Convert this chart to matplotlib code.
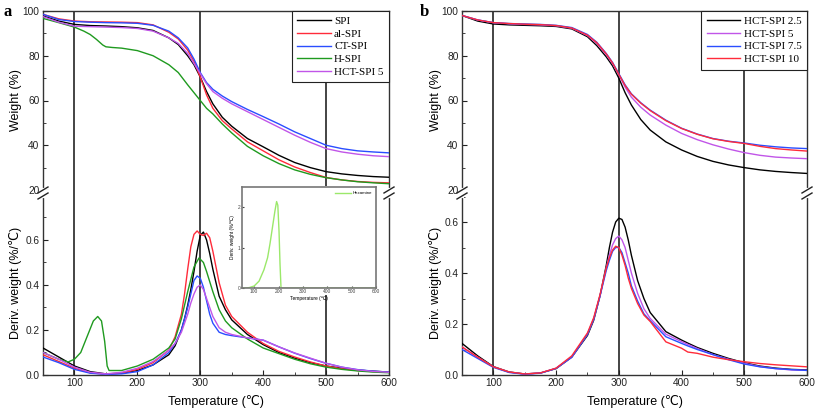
import matplotlib
matplotlib.use("Agg")
import matplotlib.pyplot as plt
from matplotlib.ticker import MultipleLocator, FixedLocator
from matplotlib.patches import Rectangle
from matplotlib.lines import Line2D

plt.rcParams['font.family'] = ['Liberation Sans', 'DejaVu Sans']

# ---------------- Panel a : TG ----------------
T_tg_a = [50, 75, 100, 125, 150, 175, 200, 225, 250, 265, 280, 290, 300, 310, 320, 335, 350, 375, 400, 425, 450, 475, 500, 525, 550, 575, 600]
w_spi = [97.8, 95.5, 94.0, 93.5, 93.3, 93.0, 92.5, 91.3, 88.0, 85.0, 80.0, 76.0, 70.5, 64.0, 58.5, 52.5, 48.5, 43.0, 39.3, 35.5, 32.3, 30.0, 28.2, 27.2, 26.5, 26.0, 25.7]
w_al = [98.5, 96.5, 95.5, 95.2, 95.1, 95.0, 94.8, 93.8, 90.5, 87.5, 82.5, 77.5, 70.5, 62.5, 56.5, 51.0, 47.3, 41.5, 37.5, 33.5, 30.3, 27.8, 25.6, 24.5, 23.8, 23.4, 23.2]
w_ct = [98.5, 96.2, 95.3, 95.0, 94.8, 94.7, 94.5, 93.6, 91.0, 88.0, 83.5, 78.5, 72.5, 68.0, 65.0, 62.0, 59.5, 56.0, 52.8, 49.5, 46.0, 43.0, 40.0, 38.5, 37.5, 37.0, 36.6]
w_hct5 = [97.5, 95.0, 93.2, 93.0, 92.8, 92.6, 92.2, 91.0, 88.0, 85.5, 81.0, 76.5, 72.0, 67.5, 64.0, 61.0, 58.5, 55.0, 51.5, 48.0, 44.5, 41.3, 38.5, 37.0, 36.0, 35.3, 34.9]
T_tg_h = [50, 75, 100, 115, 125, 135, 145, 150, 160, 175, 200, 225, 250, 265, 280, 290, 300, 310, 320, 335, 350, 375, 400, 425, 450, 475, 500, 525, 550, 575, 600]
w_h = [96.7, 94.8, 92.8, 91.0, 89.5, 87.3, 84.8, 84.0, 83.7, 83.4, 82.3, 80.0, 76.0, 72.5, 67.0, 63.5, 60.0, 56.5, 54.0, 49.5, 45.5, 39.5, 35.3, 31.8, 29.0, 27.0, 25.5, 24.5, 23.7, 23.2, 22.8]

# ---------------- Panel a : DTG ----------------
T_d_a = [50, 75, 100, 125, 150, 175, 200, 225, 250, 260, 270, 275, 280, 285, 290, 295, 300, 305, 310, 315, 320, 330, 340, 350, 375, 400, 425, 450, 475, 500, 525, 550, 575, 600]
d_spi = [0.12, 0.08, 0.04, 0.015, 0.005, 0.008, 0.02, 0.045, 0.09, 0.13, 0.20, 0.25, 0.31, 0.38, 0.46, 0.55, 0.62, 0.635, 0.60, 0.54, 0.47, 0.35, 0.29, 0.245, 0.18, 0.135, 0.10, 0.075, 0.055, 0.040, 0.030, 0.022, 0.017, 0.013]
d_al = [0.09, 0.06, 0.03, 0.01, 0.003, 0.008, 0.025, 0.055, 0.11, 0.17, 0.27, 0.36, 0.47, 0.57, 0.625, 0.64, 0.625, 0.62, 0.63, 0.61, 0.55, 0.41, 0.31, 0.26, 0.19, 0.14, 0.105, 0.08, 0.058, 0.040, 0.028, 0.020, 0.015, 0.012]
d_ct = [0.08, 0.055, 0.025, 0.008, 0.003, 0.005, 0.015, 0.045, 0.10, 0.14, 0.20, 0.25, 0.30, 0.36, 0.42, 0.44, 0.43, 0.39, 0.33, 0.27, 0.23, 0.19, 0.18, 0.175, 0.165, 0.155, 0.125, 0.097, 0.073, 0.052, 0.035, 0.024, 0.017, 0.013]
d_hct5 = [0.10, 0.07, 0.035, 0.012, 0.005, 0.012, 0.03, 0.06, 0.11, 0.14, 0.19, 0.23, 0.27, 0.32, 0.36, 0.39, 0.40, 0.38, 0.34, 0.30, 0.26, 0.21, 0.19, 0.18, 0.165, 0.155, 0.125, 0.098, 0.075, 0.052, 0.035, 0.023, 0.016, 0.012]
T_d_h = [50, 75, 90, 100, 110, 120, 130, 137, 143, 148, 152, 155, 175, 200, 225, 250, 260, 270, 280, 290, 298, 305, 310, 320, 330, 340, 350, 375, 400, 425, 450, 475, 500, 525, 550, 575, 600]
d_h = [0.10, 0.07, 0.058, 0.07, 0.10, 0.17, 0.24, 0.26, 0.24, 0.15, 0.04, 0.02, 0.02, 0.04, 0.07, 0.12, 0.16, 0.25, 0.37, 0.48, 0.52, 0.50, 0.46, 0.37, 0.29, 0.24, 0.21, 0.16, 0.12, 0.095, 0.07, 0.05, 0.035, 0.025, 0.018, 0.013, 0.010]

# Inset (Hexamine)
T_hex = [50, 60, 80, 100, 120, 140, 155, 165, 175, 185, 192, 197, 202, 206, 210, 215, 300, 400, 500, 600]
d_hex = [0.0, 0.0, 0.01, 0.05, 0.17, 0.45, 0.75, 1.10, 1.50, 1.90, 2.14, 2.05, 1.40, 0.60, 0.02, 0.0, 0.0, 0.0, 0.0, 0.0]

# ---------------- Panel b : TG ----------------
T_tg_b = [50, 75, 100, 125, 150, 175, 200, 225, 250, 265, 280, 290, 300, 310, 320, 335, 350, 375, 400, 425, 450, 475, 500, 525, 550, 575, 600]
wb_25 = [98.0, 95.5, 94.2, 93.8, 93.6, 93.4, 93.1, 92.0, 88.5, 84.5, 79.5, 75.5, 70.0, 63.5, 58.0, 51.5, 46.8, 41.5, 37.9, 35.0, 32.8, 31.2, 30.0, 29.0, 28.3, 27.8, 27.4]
wb_5 = [98.0, 96.0, 94.8, 94.3, 94.0, 93.8, 93.4, 92.3, 89.0, 85.5, 80.5, 76.5, 71.5, 66.0, 61.5, 57.0, 53.5, 49.0, 45.3, 42.5, 40.2, 38.3, 36.7, 35.5, 34.7, 34.3, 34.0]
wb_75 = [98.0, 96.0, 94.8, 94.4, 94.2, 94.0, 93.6, 92.6, 89.5, 86.0, 81.0, 77.0, 72.0, 67.0, 63.0, 59.0, 55.7, 51.2, 47.6, 45.0, 43.0, 41.8, 41.0, 40.0, 39.3, 38.8, 38.5]
wb_10 = [98.0, 96.0, 94.8, 94.4, 94.1, 93.9, 93.5, 92.4, 89.2, 85.8, 80.8, 76.8, 71.7, 66.7, 62.8, 58.8, 55.5, 51.0, 47.5, 44.9, 42.9, 41.7, 40.8, 39.5, 38.5, 37.9, 37.4]

# ---------------- Panel b : DTG ----------------
T_d_b = [50, 75, 100, 125, 150, 175, 200, 225, 250, 260, 270, 280, 285, 290, 295, 300, 305, 310, 315, 320, 330, 340, 350, 375, 400, 410, 425, 450, 475, 500, 525, 550, 575, 600]
db_25 = [0.124, 0.075, 0.033, 0.012, 0.004, 0.008, 0.025, 0.07, 0.155, 0.215, 0.31, 0.43, 0.50, 0.56, 0.60, 0.615, 0.61, 0.58, 0.53, 0.47, 0.37, 0.30, 0.245, 0.17, 0.137, 0.125, 0.108, 0.085, 0.065, 0.048, 0.035, 0.027, 0.022, 0.020]
db_5 = [0.11, 0.07, 0.032, 0.011, 0.004, 0.008, 0.026, 0.07, 0.16, 0.22, 0.31, 0.42, 0.47, 0.51, 0.535, 0.545, 0.53, 0.50, 0.45, 0.40, 0.32, 0.26, 0.222, 0.16, 0.131, 0.12, 0.104, 0.080, 0.062, 0.046, 0.033, 0.025, 0.020, 0.018]
db_75 = [0.10, 0.065, 0.030, 0.010, 0.003, 0.007, 0.026, 0.07, 0.16, 0.22, 0.31, 0.41, 0.45, 0.485, 0.50, 0.50, 0.48, 0.44, 0.40, 0.35, 0.29, 0.24, 0.213, 0.15, 0.124, 0.114, 0.100, 0.080, 0.060, 0.043, 0.032, 0.025, 0.021, 0.018]
db_10 = [0.11, 0.07, 0.032, 0.012, 0.004, 0.008, 0.027, 0.075, 0.165, 0.225, 0.315, 0.42, 0.46, 0.49, 0.505, 0.50, 0.47, 0.43, 0.38, 0.34, 0.28, 0.235, 0.21, 0.13, 0.105, 0.09, 0.085, 0.070, 0.060, 0.052, 0.045, 0.040, 0.036, 0.032]

labels_a = ["SPI", "al-SPI", "CT-SPI", "H-SPI", "HCT-SPI 5"]
labels_b = ["HCT-SPI 2.5", "HCT-SPI 5", "HCT-SPI 7.5", "HCT-SPI 10"]
vlines = [100, 300, 500]

C_BLACK = "#000000"
C_RED = "#ff2b3a"
C_BLUE = "#2a4dff"
C_GREEN = "#1f9a1f"
C_PURPLE = "#c155e8"
C_HEX = "#9be86a"

W, H = 817, 412
fig = plt.figure(figsize=(W / 100, H / 100), dpi=100)


def fr(x0, y0, x1, y1):
    return [x0 / W, 1 - y1 / H, (x1 - x0) / W, (y1 - y0) / H]


def style_axes(ax, upper):
    ax.set_xlim(50, 600)
    for s in ax.spines.values():
        s.set_color("#333333")
        s.set_linewidth(1.0)
    ax.tick_params(direction="in", which="both", labelsize=7.3, colors="#222222",
                   top=False, right=False, pad=2.5)
    ax.tick_params(which="major", length=3.5)
    ax.tick_params(which="minor", length=2)
    ax.xaxis.set_major_locator(FixedLocator([100, 200, 300, 400, 500, 600]))
    ax.xaxis.set_minor_locator(FixedLocator([150, 250, 350, 450, 550]))
    if upper:
        ax.spines["bottom"].set_visible(False)
        ax.tick_params(axis="x", which="both", bottom=False, labelbottom=False)
    else:
        ax.spines["top"].set_visible(False)
    for v in vlines:
        ax.axvline(v, color="#111111", lw=1.1, zorder=1)


def breakmark(xp, yp=193):
    gap = Line2D([xp / W, xp / W], [1 - (yp + 3) / H, 1 - (yp - 3) / H],
                 transform=fig.transFigure, color="white", lw=3, zorder=20)
    fig.add_artist(gap)
    for dy in (-3, 3):
        ln = Line2D([(xp - 5) / W, (xp + 5) / W],
                    [1 - (yp + dy + 3) / H, 1 - (yp + dy - 3) / H],
                    transform=fig.transFigure, color="#222222", lw=1.0, zorder=21)
        fig.add_artist(ln)


# ================= Panel a =================
axa_u = fig.add_axes(fr(43, 11, 389, 190))
axa_l = fig.add_axes(fr(43, 190, 389, 375))
style_axes(axa_u, True)
style_axes(axa_l, False)

axa_u.set_ylim(20, 100)
axa_u.yaxis.set_major_locator(MultipleLocator(20))
axa_u.yaxis.set_minor_locator(MultipleLocator(10))
axa_l.set_ylim(0, 0.822)
axa_l.yaxis.set_major_locator(FixedLocator([0.0, 0.2, 0.4, 0.6]))
axa_l.yaxis.set_minor_locator(FixedLocator([0.1, 0.3, 0.5, 0.7]))
axa_l.yaxis.set_major_formatter(matplotlib.ticker.FormatStrFormatter("%.1f"))

lw = 1.0
axa_u.plot(T_tg_a, w_spi, color=C_BLACK, lw=lw, label=labels_a[0], zorder=3)
axa_u.plot(T_tg_a, w_al, color=C_RED, lw=lw, label=labels_a[1], zorder=3)
axa_u.plot(T_tg_a, w_ct, color=C_BLUE, lw=lw, label=labels_a[2], zorder=3)
axa_u.plot(T_tg_h, w_h, color=C_GREEN, lw=lw, label=labels_a[3], zorder=3)
axa_u.plot(T_tg_a, w_hct5, color=C_PURPLE, lw=lw, label=labels_a[4], zorder=3)

axa_l.plot(T_d_a, d_spi, color=C_BLACK, lw=lw, zorder=3)
axa_l.plot(T_d_a, d_al, color=C_RED, lw=lw, zorder=3)
axa_l.plot(T_d_a, d_ct, color=C_BLUE, lw=lw, zorder=3)
axa_l.plot(T_d_h, d_h, color=C_GREEN, lw=lw, zorder=3)
axa_l.plot(T_d_a, d_hct5, color=C_PURPLE, lw=lw, zorder=3)

leg_kw = dict(loc="upper right", borderaxespad=0, fancybox=False, framealpha=1,
              edgecolor="#222222", handlelength=3.0, handletextpad=0.3,
              labelspacing=0.25, borderpad=0.5,
              prop={"family": "Liberation Serif", "size": 8})
lga = axa_u.legend(**leg_kw)
lga.get_frame().set_linewidth(0.8)
lga.set_zorder(10)

axa_l.set_xlabel("Temperature (\u2103)", fontsize=9, labelpad=5)
fig.text(16 / W, 1 - 100 / H, "Weight (%)", rotation=90, ha="center", va="center", fontsize=9)
fig.text(16 / W, 1 - 283 / H, "Deriv. weight (%/\u2103)", rotation=90, ha="center", va="center", fontsize=9)
fig.text(4 / W, 1 - 12 / H, "a", fontsize=12, fontweight="bold", family="Liberation Serif",
         ha="left", va="center")

fig.add_artist(Rectangle((229 / W, 1 - 295 / H), (382 - 229) / W, (295 - 186) / H,
                         transform=fig.transFigure, facecolor="white", edgecolor="none", zorder=4))
axi = fig.add_axes(fr(242, 187, 376, 288))
axi.set_zorder(6)
axi.plot(T_hex, d_hex, color=C_HEX, lw=1.0, label="Hexamine")
axi.set_xlim(50, 600)
axi.set_ylim(0, 2.5)
axi.xaxis.set_major_locator(FixedLocator([100, 200, 300, 400, 500, 600]))
axi.yaxis.set_major_locator(FixedLocator([0, 1, 2]))
axi.tick_params(direction="in", labelsize=3.5, length=1.5, pad=1, colors="#444444")
for s in axi.spines.values():
    s.set_color("#777777")
    s.set_linewidth(1.2)
axi.set_xlabel("Temperature (\u2103)", fontsize=3.5, labelpad=1)
axi.set_ylabel("Deriv. weight (%/\u2103)", fontsize=3.5, labelpad=2)
li = axi.legend(loc="upper right", frameon=False, fontsize=3.2, handlelength=3.5, handletextpad=0.4)

breakmark(43)
breakmark(389)

# ================= Panel b =================
axb_u = fig.add_axes(fr(462, 11, 807, 190))
axb_l = fig.add_axes(fr(462, 190, 807, 375))
style_axes(axb_u, True)
style_axes(axb_l, False)
axb_u.set_ylim(20, 100)
axb_u.yaxis.set_major_locator(MultipleLocator(20))
axb_u.yaxis.set_minor_locator(MultipleLocator(10))
axb_l.set_ylim(0, 0.7255)
axb_l.yaxis.set_major_locator(FixedLocator([0.0, 0.2, 0.4, 0.6]))
axb_l.yaxis.set_minor_locator(FixedLocator([0.1, 0.3, 0.5, 0.7]))
axb_l.yaxis.set_major_formatter(matplotlib.ticker.FormatStrFormatter("%.1f"))

axb_u.plot(T_tg_b, wb_25, color=C_BLACK, lw=lw, label=labels_b[0], zorder=3)
axb_u.plot(T_tg_b, wb_5, color=C_PURPLE, lw=lw, label=labels_b[1], zorder=3)
axb_u.plot(T_tg_b, wb_75, color=C_BLUE, lw=lw, label=labels_b[2], zorder=3)
axb_u.plot(T_tg_b, wb_10, color=C_RED, lw=lw, label=labels_b[3], zorder=3)

axb_l.plot(T_d_b, db_25, color=C_BLACK, lw=lw, zorder=3)
axb_l.plot(T_d_b, db_5, color=C_PURPLE, lw=lw, zorder=3)
axb_l.plot(T_d_b, db_75, color=C_BLUE, lw=lw, zorder=3)
axb_l.plot(T_d_b, db_10, color=C_RED, lw=lw, zorder=3)

lgb = axb_u.legend(**leg_kw)
lgb.get_frame().set_linewidth(0.8)
lgb.set_zorder(10)

axb_l.set_xlabel("Temperature (\u2103)", fontsize=9, labelpad=5)
fig.text(436 / W, 1 - 100 / H, "Weight (%)", rotation=90, ha="center", va="center", fontsize=9)
fig.text(436 / W, 1 - 283 / H, "Deriv. weight (%/\u2103)", rotation=90, ha="center", va="center", fontsize=9)
fig.text(420 / W, 1 - 12 / H, "b", fontsize=12, fontweight="bold", family="Liberation Serif",
         ha="left", va="center")

breakmark(462)
breakmark(807)

fig.savefig("out.png", dpi=100)
